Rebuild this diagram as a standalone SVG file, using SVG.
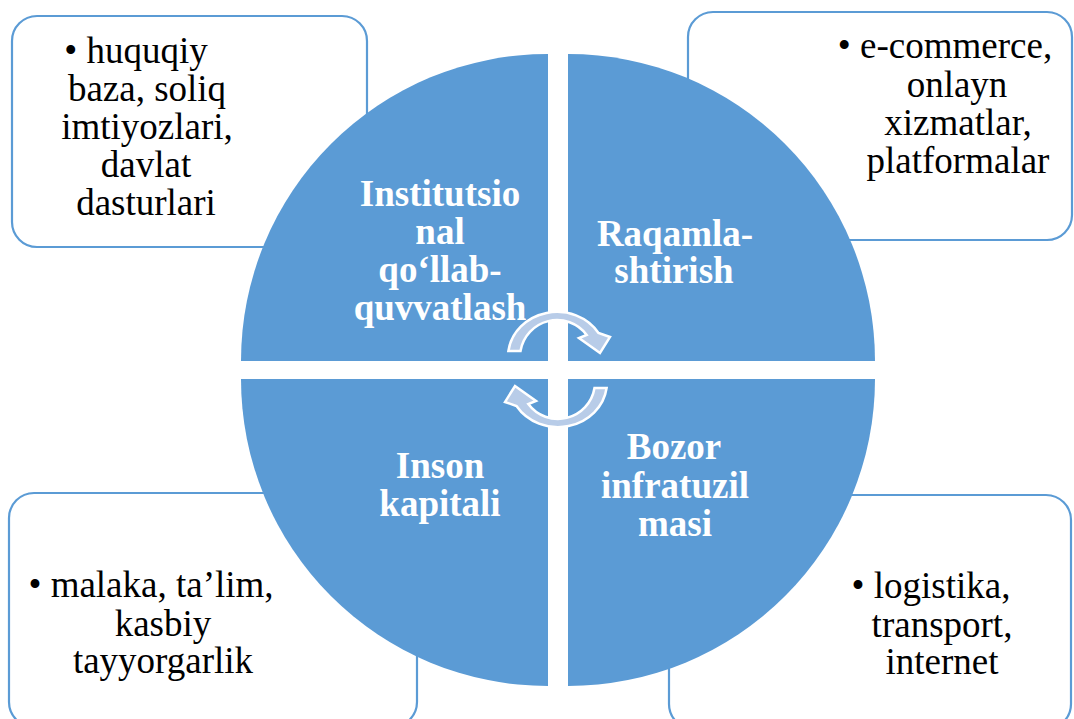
<svg xmlns="http://www.w3.org/2000/svg" width="1074" height="719" viewBox="0 0 1074 719">
<style>
.box{fill:#ffffff;stroke:#5B9BD5;stroke-width:2.2}
.quad{fill:#5B9BD5}
.bt{font-family:'Liberation Serif','Times New Roman',Times,'DejaVu Serif',serif;font-size:37px;fill:#000000;text-anchor:middle}
.qt{font-family:'Liberation Serif','Times New Roman',Times,'DejaVu Serif',serif;font-size:37px;font-weight:bold;fill:#ffffff;text-anchor:middle}
.arr{fill:#B8CCE8;stroke:#ffffff;stroke-width:2.5;stroke-linejoin:miter}
</style>
<rect width="1074" height="719" fill="#ffffff"/>
<g id="box-tl">
<rect class="box" x="12" y="16" width="355" height="231" rx="25"/>
<text class="bt" font-family="Liberation Serif, Times New Roman, serif"><tspan x="136" y="63">• huquqiy</tspan><tspan x="147" y="101">baza, soliq</tspan><tspan x="147" y="139">imtiyozlari,</tspan><tspan x="146" y="177">davlat</tspan><tspan x="146" y="215">dasturlari</tspan></text>
</g>
<g id="box-tr">
<rect class="box" x="688" y="12" width="384" height="228" rx="25"/>
<text class="bt" font-family="Liberation Serif, Times New Roman, serif"><tspan x="945" y="58">• e-commerce,</tspan><tspan x="957" y="97">onlayn</tspan><tspan x="958" y="135">xizmatlar,</tspan><tspan x="958" y="173">platformalar</tspan></text>
</g>
<g id="box-bl">
<rect class="box" x="9" y="493" width="408" height="234" rx="25"/>
<text class="bt" font-family="Liberation Serif, Times New Roman, serif"><tspan x="151" y="597">• malaka, ta’lim,</tspan><tspan x="163" y="636">kasbiy</tspan><tspan x="163" y="673">tayyorgarlik</tspan></text>
</g>
<g id="box-br">
<rect class="box" x="669" y="495" width="402" height="234" rx="25"/>
<text class="bt" font-family="Liberation Serif, Times New Roman, serif"><tspan x="931" y="598">• logistika,</tspan><tspan x="942" y="637">transport,</tspan><tspan x="942" y="674">internet</tspan></text>
</g>
<g id="q-institutsional">
<path class="quad" d="M548 361 L241 361 A307 307 0 0 1 548 54 Z"/>
<text class="qt" font-family="Liberation Serif, Times New Roman, serif"><tspan x="440" y="206">Institutsio</tspan><tspan x="440" y="244">nal</tspan><tspan x="440" y="282">qo‘llab-</tspan><tspan x="440" y="320">quvvatlash</tspan></text>
</g>
<g id="q-raqamlashtirish">
<path class="quad" d="M568 361 L568 54 A307 307 0 0 1 875 361 Z"/>
<text class="qt" font-family="Liberation Serif, Times New Roman, serif"><tspan x="675" y="246">Raqamla-</tspan><tspan x="674" y="283">shtirish</tspan></text>
</g>
<g id="q-bozor">
<path class="quad" d="M568 379 L875 379 A307 307 0 0 1 568 686 Z"/>
<text class="qt" font-family="Liberation Serif, Times New Roman, serif"><tspan x="674" y="459">Bozor</tspan><tspan x="675" y="498">infratuzil</tspan><tspan x="675" y="536">masi</tspan></text>
</g>
<g id="q-inson">
<path class="quad" d="M548 379 L548 686 A307 307 0 0 1 241 379 Z"/>
<text class="qt" font-family="Liberation Serif, Times New Roman, serif"><tspan x="440" y="478">Inson</tspan><tspan x="440" y="516">kapitali</tspan></text>
</g>
<g id="connectors">
<path id="arrow-top" class="arr" d="M508.4 351 A49 45 0 0 1 598.5 333 L610 337 L600 353 L579 338 L586.7 335 A37 37 0 0 0 520.5 351 Z"/>
<path id="arrow-bottom" class="arr" transform="rotate(180 557.5 369.5)" d="M508.4 351 A49 45 0 0 1 598.5 333 L610 337 L600 353 L579 338 L586.7 335 A37 37 0 0 0 520.5 351 Z"/>
</g>
</svg>
